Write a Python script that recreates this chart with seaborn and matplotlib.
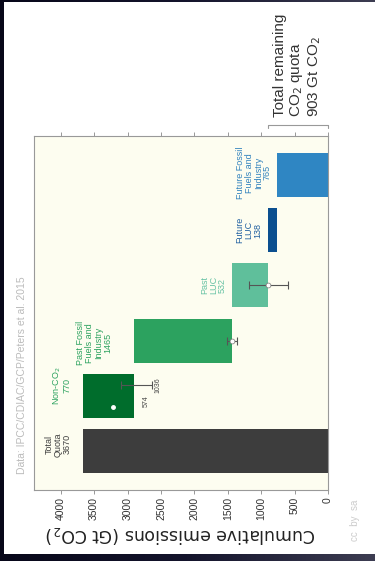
import numpy as np
import matplotlib
matplotlib.use("Agg")
import matplotlib.pyplot as plt
import seaborn as sns
from matplotlib.patches import Rectangle
from matplotlib.colors import LinearSegmentedColormap

# Carbon quota waterfall (Gt CO2)
categories = ["Total Quota", "Non-CO2", "Past Fossil Fuels and Industry",
              "Past LUC", "Future LUC", "Future Fossil Fuels and Industry"]
amounts = [3670, 770, 1465, 532, 138, 765]
bar_labels = ["Total\nQuota\n3670", "Non-CO$_2$\n770", "Past Fossil\nFuels and\nIndustry\n1465",
              "Past\nLUC\n532", "Future\nLUC\n138", "Future Fossil\nFuels and\nIndustry\n765"]
bar_colors = ["#3d3d3d", "#006d2c", "#2ca25f", "#5fbf9b", "#0b4f8f", "#2f86c3"]
label_colors = ["#3d3d3d", "#2ca25f", "#2ca25f", "#66c2a4", "#1f5fa0", "#3182bd"]
tick_values = [0, 500, 1000, 1500, 2000, 2500, 3000, 3500, 4000]
remaining_quota = 903

# uncertainty ranges drawn on the bars: (category index, low, mid, high)
err_ranges = [(2, 1365, 1435, 1505), (3, 596, 903, 1186)]
# non-CO2 range, expressed as emissions removed from the total quota
nonco2_low, nonco2_high = 574, 1036
nonco2_point = 457

# waterfall geometry
tops, bottoms = [amounts[0]], [0]
level = amounts[0]
for a in amounts[1:]:
    tops.append(level)
    bottoms.append(level - a)
    level -= a

sns.set_theme(style="white")
plt.rcParams["font.family"] = ["Liberation Sans", "DejaVu Sans"]

W, H = 375, 561
fig = plt.figure(figsize=(W / 100, H / 100), dpi=100)

# dark slide background with a horizontal gradient
bg = fig.add_axes([0, 0, 1, 1], zorder=-2)
cmap = LinearSegmentedColormap.from_list("slide", ["#070719", "#14142c", "#3d3d52"])
bg.imshow(np.linspace(0, 1, 256)[None, :], aspect="auto", cmap=cmap, extent=[0, 1, 0, 1])
bg.set_axis_off()
fig.patches.append(Rectangle((4 / W, 1 - 554 / H), 1 - 4 / W, (554 - 2) / H,
                             transform=fig.transFigure, facecolor="white",
                             edgecolor="none", zorder=-1))

ax = fig.add_axes([34 / W, 1 - 490 / H, (328 - 34) / W, (490 - 136) / H])
ax.set_facecolor("#fdfdf0")

sns.barplot(x=amounts, y=categories, left=bottoms, orient="y", color="#3d3d3d",
            errorbar=None, width=0.8, saturation=1, ax=ax)
for patch, c in zip(ax.patches, bar_colors):
    patch.set_facecolor(c)
    patch.set_edgecolor("none")

ax.set_xlim(4400, 0)
ax.set_ylim(-0.7, 5.7)
ax.set_yticks([])
ax.set_ylabel("")
ax.set_xticks(tick_values)
ax.set_xticklabels([str(v) for v in tick_values], rotation=90, fontsize=7.5, color="#333333")
ax.tick_params(axis="x", which="both", bottom=True, top=True, direction="out",
               length=3, width=0.6, color="#888888", pad=2)
for s in ax.spines.values():
    s.set_color("#999999")
    s.set_linewidth(0.8)
ax.set_xlabel("Cumulative emissions (Gt CO$_2$)", fontsize=12.5, color="#222222",
              rotation=180, labelpad=3, family="DejaVu Sans")

# bar labels: (horizontal, vertical) offsets in pixels from the bar end
label_offsets = [(-11, 7), (-11, 10), (-22, -2), (-5, 0), (-5, 0), (-5, 2)]
for i, (lab, col, (dx, dy)) in enumerate(zip(bar_labels, label_colors, label_offsets)):
    ax.annotate(lab, xy=(tops[i], i), xytext=(dx * 0.72, dy * 0.72), textcoords="offset points",
                rotation=90, ha="right", va="center", multialignment="center",
                fontsize=6.5, color=col, linespacing=1.0)

# error bars
for i, lo, mid, hi in err_ranges:
    ax.errorbar([mid], [i], xerr=[[mid - lo], [hi - mid]], fmt="none",
                ecolor="#555555", elinewidth=0.8, capsize=3, capthick=0.8)
    ax.plot([mid], [i], "o", ms=3.5, mfc="white", mec="#777777", mew=0.5)

nc_lo = tops[1] - nonco2_low
nc_hi = tops[1] - nonco2_high
ax.errorbar([(nc_lo + nc_hi) / 2], [1.2], xerr=[[(nc_lo - nc_hi) / 2]] * 2,
            fmt="none", ecolor="#555555", elinewidth=0.8, capsize=3, capthick=0.8)
ax.plot([tops[1] - nonco2_point], [0.8], "o", ms=2.5, mfc="white", mec="white")
ax.text(nc_hi - 30, 1.2, str(nonco2_high), rotation=90, ha="left", va="center",
        fontsize=5, color="#444444")
ax.text(nc_lo - 380, 0.9, str(nonco2_low), rotation=90, ha="center", va="center",
        fontsize=5, color="#444444")

# remaining quota bracket above the axes
yb = 5.9
ax.plot([remaining_quota, remaining_quota, 0, 0], [yb - 0.05, yb, yb, yb - 0.05],
        color="#999999", lw=0.8, clip_on=False)
ax.text(remaining_quota - 80, yb + 0.15, "Total remaining\nCO$_2$ quota\n903 Gt CO$_2$",
        rotation=90, ha="left", va="bottom", multialignment="left",
        fontsize=11, color="#333333", linespacing=1.1, clip_on=False)

fig.text(22 / W, 1 - 375 / H, "Data: IPCC/CDIAC/GCP/Peters et al. 2015", rotation=90,
         ha="center", va="center", fontsize=7.5, color="#bbbbbb")
fig.text(355 / W, 1 - 520 / H, "cc  by  sa", rotation=90, ha="center", va="center",
         fontsize=7, color="#cccccc")

fig.savefig("out.png", dpi=100)
